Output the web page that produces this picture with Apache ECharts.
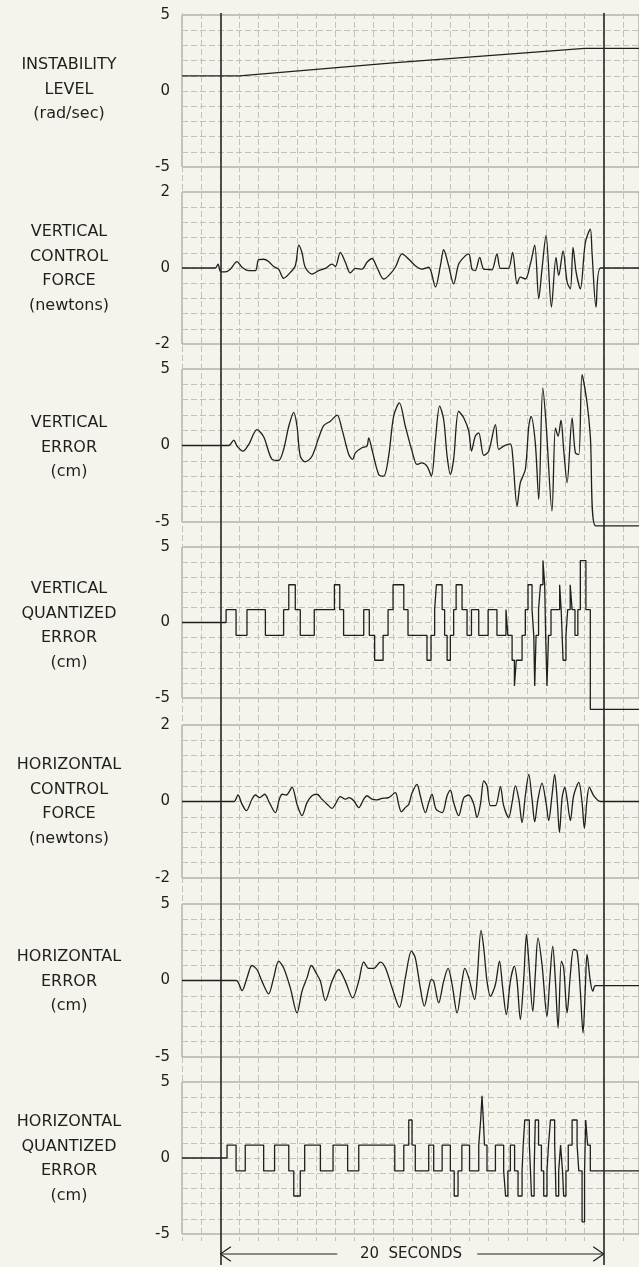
<!DOCTYPE html>
<html>
<head>
<meta charset="utf-8">
<script src="https://cdn.jsdelivr.net/npm/echarts@6/dist/echarts.min.js"></script>
<style>
  html, body { margin: 0; padding: 0; background: #f4f4ec; }
  #chart { width: 639px; height: 1267px; }
</style>
</head>
<body>
<div id="chart"></div>
<script>
// time axis (seconds), 0 and 20 are the heavy marker lines
const timeMin = -2;
const timeMax = 21.84;
const markerTimes = [0, 20];

// each panel runs from -range to +range
const panelRanges = [5, 2, 5, 5, 2, 5, 5];

const panelTitles = [
  ["INSTABILITY", "LEVEL", "(rad/sec)"],
  ["VERTICAL", "CONTROL", "FORCE", "(newtons)"],
  ["VERTICAL", "ERROR", "(cm)"],
  ["VERTICAL", "QUANTIZED", "ERROR", "(cm)"],
  ["HORIZONTAL", "CONTROL", "FORCE", "(newtons)"],
  ["HORIZONTAL", "ERROR", "(cm)"],
  ["HORIZONTAL", "QUANTIZED", "ERROR", "(cm)"]
];

// [time, value]
const instabilityLevel = [[-2, 1], [1, 1], [9, 1.85], [19, 2.8], [21.84, 2.8]];

const verticalForce = [[-2,0],[-0.26,0],[-0.12,0.1],[0.02,-0.1],[0.26,-0.1],[0.52,-0.03],[0.87,0.17],[1.13,0.02],[1.48,-0.07],[1.83,-0.07],[2.0,0.22],[2.26,0.23],[2.52,0.17],[2.78,0.04],[3.04,-0.03],[3.3,-0.27],[3.57,-0.16],[3.91,0.06],[4.09,0.6],[4.26,0.4],[4.43,0.02],[4.78,-0.16],[5.13,-0.07],[5.48,-0.01],[5.83,0.1],[6.0,0.04],[6.26,0.41],[6.52,0.15],[6.78,-0.13],[7.04,-0.01],[7.39,-0.03],[7.65,0.15],[7.91,0.25],[8.17,0.02],[8.52,-0.29],[8.78,-0.2],[9.13,0.02],[9.48,0.37],[9.83,0.23],[10.17,0.06],[10.52,-0.03],[10.87,0.02],[11.22,-0.5],[11.48,0.06],[11.65,0.48],[11.91,0.06],[12.17,-0.42],[12.43,0.1],[12.7,0.28],[12.96,0.37],[13.13,-0.03],[13.3,-0.07],[13.53,0.28],[13.74,-0.03],[14.0,-0.04],[14.17,-0.05],[14.43,0.37],[14.61,-0.01],[14.87,-0.01],[15.04,-0.01],[15.25,0.41],[15.48,-0.42],[15.65,-0.24],[15.91,-0.29],[16.17,0.1],[16.4,0.6],[16.61,-0.81],[16.78,-0.03],[16.99,0.86],[17.27,-1.03],[17.51,0.28],[17.65,-0.2],[17.88,0.45],[18.09,-0.37],[18.26,-0.55],[18.4,0.54],[18.56,-0.11],[18.78,-0.55],[19.04,0.67],[19.3,1.02],[19.39,0.4],[19.6,-1.03],[19.83,0],[21.84,0]];

const verticalError = [[-2,0],[0.43,0],[0.7,0.35],[0.87,-0.04],[1.18,-0.37],[1.48,0.07],[1.91,1.04],[2.26,0.57],[2.7,-0.91],[3.04,-0.98],[3.3,-0.26],[3.57,1.26],[3.83,2.17],[4.0,1.26],[4.17,-0.7],[4.43,-1.07],[4.78,-0.7],[5.13,0.5],[5.39,1.3],[5.74,1.59],[6.09,1.98],[6.35,1.04],[6.7,-0.59],[6.9,-0.91],[7.04,-0.48],[7.39,-0.15],[7.65,-0.04],[7.74,0.5],[7.91,-0.26],[8.26,-1.89],[8.52,-2.0],[8.78,-0.7],[9.04,1.91],[9.34,2.78],[9.65,1.26],[10.0,-0.37],[10.26,-1.24],[10.52,-1.13],[10.78,-1.35],[11.01,-2.0],[11.22,0.39],[11.44,2.57],[11.65,1.7],[11.83,-0.7],[12.0,-1.89],[12.17,-0.91],[12.43,2.24],[12.7,1.8],[12.96,0.93],[13.1,-0.37],[13.3,0.61],[13.48,0.83],[13.74,-0.65],[14.0,-0.37],[14.35,1.37],[14.52,-0.26],[14.78,-0.04],[15.13,0.11],[15.25,-0.7],[15.48,-3.96],[15.65,-2.43],[15.91,-1.57],[16.09,1.26],[16.21,1.91],[16.43,0.17],[16.61,-3.52],[16.82,3.76],[16.99,1.48],[17.3,-4.28],[17.48,1.15],[17.62,0.61],[17.77,1.65],[17.91,-0.26],[18.09,-2.43],[18.35,1.8],[18.52,-0.48],[18.7,-0.59],[18.87,4.63],[19.13,2.78],[19.3,0.61],[19.57,-5.25],[21.84,-5.25]];

// quantized traces: level holds from each time until the next one
const verticalQuantized = [[-2,0],[0.3,0.85],[0.82,-0.85],[1.39,0.85],[2.35,-0.85],[3.3,0.85],[3.57,2.5],[3.91,0.85],[4.17,-0.85],[4.9,0.85],[5.95,2.5],[6.23,0.85],[6.43,-0.85],[7.48,0.85],[7.77,-0.85],[8.05,-2.5],[8.49,-0.85],[8.75,0.85],[9.01,2.5],[9.57,0.85],[9.79,-0.85],[10.78,-2.5],[10.99,-0.85],[11.18,0.85],[11.27,2.5],[11.57,0.85],[11.7,-0.85],[11.83,-2.5],[12.0,-0.85],[12.17,0.85],[12.3,2.5],[12.61,0.85],[12.87,-0.85],[13.1,0.85],[13.48,-0.85],[13.97,0.85],[14.43,-0.85],[14.9,0.85],[15.0,-0.85],[15.22,-2.5],[15.34,-4.2],[15.44,-2.5],[15.74,-0.85],[15.91,0.85],[16.05,2.5],[16.26,0.85],[16.35,-0.85],[16.4,-4.2],[16.47,-0.85],[16.6,0.85],[16.7,2.5],[16.83,4.1],[16.92,2.5],[16.97,-0.85],[17.04,-4.2],[17.12,-0.85],[17.25,0.85],[17.7,2.5],[17.78,0.85],[17.88,-2.5],[18.03,-0.85],[18.12,0.85],[18.25,2.5],[18.35,0.85],[18.5,-0.85],[18.65,0.85],[18.78,4.1],[19.07,0.85],[19.3,-5.75],[21.84,-5.75]];

const horizontalForce = [[-2,0],[0.7,0],[0.92,0.17],[1.13,-0.07],[1.36,-0.24],[1.65,0.06],[1.83,0.17],[2.05,0.1],[2.31,0.19],[2.56,-0.03],[2.87,-0.29],[3.08,0.06],[3.22,0.19],[3.44,0.17],[3.74,0.37],[4.0,-0.07],[4.26,-0.37],[4.52,-0.03],[4.78,0.15],[5.04,0.19],[5.3,0.06],[5.57,-0.07],[5.83,-0.18],[6.0,-0.07],[6.26,0.13],[6.52,0.06],[6.7,0.1],[6.96,0.02],[7.22,-0.16],[7.48,0.06],[7.65,0.15],[7.91,0.06],[8.17,0.04],[8.43,0.08],[8.78,0.1],[9.13,0.23],[9.3,-0.07],[9.44,-0.27],[9.65,-0.16],[9.83,-0.07],[10.0,0.22],[10.26,0.45],[10.43,0.15],[10.7,-0.29],[10.87,-0.03],[11.04,0.19],[11.25,-0.2],[11.57,-0.29],[11.83,0.15],[12.0,0.3],[12.17,-0.03],[12.43,-0.37],[12.7,0.1],[12.96,0.17],[13.22,-0.07],[13.39,-0.42],[13.57,-0.07],[13.74,0.54],[13.91,0.41],[14.09,-0.11],[14.35,-0.11],[14.61,0.39],[14.78,-0.11],[15.04,-0.42],[15.22,-0.03],[15.39,0.41],[15.57,0.06],[15.74,-0.55],[15.91,0.15],[16.09,0.71],[16.26,0.06],[16.4,-0.53],[16.57,0.06],[16.78,0.48],[16.99,-0.03],[17.13,-0.5],[17.3,0.15],[17.44,0.71],[17.57,0.06],[17.69,-0.81],[17.83,0.1],[17.97,0.37],[18.09,0.06],[18.26,-0.5],[18.43,0.15],[18.7,0.5],[18.87,-0.03],[18.99,-0.7],[19.13,0.06],[19.25,0.37],[19.48,0.15],[19.83,0],[21.84,0]];

const horizontalError = [[-2,0],[0.82,0],[1.13,-0.66],[1.39,0.17],[1.65,0.98],[1.91,0.72],[2.17,-0.04],[2.52,-0.87],[2.78,0.17],[3.04,1.27],[3.3,0.83],[3.65,-0.48],[4.0,-2.12],[4.26,-0.7],[4.52,0.17],[4.75,0.98],[5.04,0.39],[5.22,-0.04],[5.48,-1.31],[5.83,-0.04],[6.17,0.72],[6.52,-0.04],[6.9,-1.14],[7.22,-0.04],[7.48,1.22],[7.74,0.79],[8.0,0.79],[8.35,1.2],[8.61,0.83],[8.96,-0.48],[9.34,-1.75],[9.65,0.17],[9.97,1.92],[10.17,1.48],[10.43,-0.48],[10.64,-1.68],[10.87,-0.48],[11.01,0.07],[11.13,-0.04],[11.39,-1.46],[11.65,-0.04],[11.88,0.79],[12.09,-0.26],[12.35,-2.12],[12.61,-0.04],[12.75,0.79],[12.96,0.17],[13.27,-1.25],[13.39,-0.04],[13.6,3.28],[13.74,2.14],[13.91,-0.04],[14.09,-1.03],[14.35,-0.26],[14.56,1.27],[14.73,-0.48],[14.92,-2.23],[15.13,-0.04],[15.34,0.94],[15.48,-0.04],[15.65,-2.55],[15.83,0.17],[15.97,3.01],[16.09,1.27],[16.3,-2.02],[16.43,0.39],[16.57,2.79],[16.78,1.05],[17.04,-2.34],[17.18,-0.04],[17.34,2.25],[17.48,-0.04],[17.62,-3.1],[17.79,1.27],[17.91,0.83],[18.09,-2.12],[18.26,0.39],[18.43,2.03],[18.61,1.92],[18.78,-0.7],[18.92,-3.43],[19.04,-0.48],[19.13,1.7],[19.3,-0.04],[19.43,-0.7],[19.57,-0.33],[21.84,-0.33]];

const horizontalQuantized = [[-2,0],[0.35,0.85],[0.82,-0.85],[1.3,0.85],[2.26,-0.85],[2.83,0.85],[3.57,-0.85],[3.83,-2.5],[4.17,-0.85],[4.4,0.85],[5.22,-0.85],[5.88,0.85],[6.64,-0.85],[7.22,0.85],[9.1,-0.85],[9.57,0.85],[9.83,2.5],[10.0,0.85],[10.17,-0.85],[10.87,0.85],[11.13,-0.85],[11.57,0.85],[12.0,-0.85],[12.2,-2.5],[12.4,-0.85],[12.6,0.85],[13.0,-0.85],[13.48,0.85],[13.58,2.5],[13.65,4.1],[13.72,2.5],[13.78,0.85],[13.91,-0.85],[14.35,0.85],[14.78,-0.85],[14.88,-2.5],[15.0,-0.85],[15.13,0.85],[15.35,-0.85],[15.53,-2.5],[15.74,-0.85],[15.8,0.85],[15.88,2.5],[16.12,0.85],[16.18,-0.85],[16.23,-2.5],[16.37,-0.85],[16.4,0.85],[16.43,2.5],[16.6,0.85],[16.75,-0.85],[16.87,-2.5],[17.04,-0.85],[17.12,0.85],[17.22,2.5],[17.44,0.85],[17.48,-0.85],[17.51,-2.5],[17.65,-0.85],[17.75,0.85],[17.85,-0.85],[17.91,-2.5],[18.03,-0.85],[18.15,0.85],[18.35,2.5],[18.61,0.85],[18.7,-0.85],[18.87,-4.2],[19.0,-0.85],[19.03,0.85],[19.06,2.5],[19.16,0.85],[19.3,-0.85],[21.84,-0.85]];

// "20 SECONDS" span arrow
const spanLeftShaft = [[0, 0.5], [6.1, 0.5]];
const spanRightShaft = [[13.4, 0.5], [20, 0.5]];
const spanLeftHead = [[0.55, 0.95], [0, 0.5], [0.55, 0.05]];
const spanRightHead = [[19.45, 0.95], [20, 0.5], [19.45, 0.05]];
const spanLabel = "20  SECONDS";

const traces = [instabilityLevel, verticalForce, verticalError, verticalQuantized,
  horizontalForce, horizontalError, horizontalQuantized];
const stepped = [false, false, false, true, false, false, true];
const smoothed = [false, true, true, false, true, true, false];

// layout
const panelTops = [15, 192, 369, 547, 725, 904, 1082];
const panelHeights = [152, 152, 153, 151, 153, 153, 152];
const titleTops = [65, 232, 423, 589, 765, 957, 1122];
const plotLeft = 182;
const plotRight = -2;
const ink = "#1f1f1f";
const gridInk = "#c2c2b9";
const font = '"DejaVu Sans", sans-serif';

const grids = [];
const xAxes = [];
const yAxes = [];
const series = [];
const graphics = [];

function hiddenX(gi) {
  return { gridIndex: gi, type: "value", min: timeMin, max: timeMax, show: false };
}

// 0: background with one-second vertical rules
grids.push({ left: plotLeft, right: plotRight, top: 13, height: 1228 });
xAxes.push({
  gridIndex: 0, type: "value", min: timeMin, max: timeMax, interval: 1,
  axisLine: { show: false }, axisTick: { show: false }, axisLabel: { show: false },
  splitLine: { show: true, lineStyle: { color: gridInk, width: 1, type: [6, 3] } }
});
yAxes.push({ gridIndex: 0, type: "value", min: 0, max: 1, show: false });

// 1..7: panels
panelRanges.forEach((r, i) => {
  const gi = i + 1;
  grids.push({
    left: plotLeft, right: plotRight, top: panelTops[i], height: panelHeights[i],
    show: true, borderColor: "#92928b", borderWidth: 1, backgroundColor: "transparent"
  });
  xAxes.push(hiddenX(gi));
  yAxes.push({
    gridIndex: gi, type: "value", min: -r, max: r, interval: r / 5,
    axisLine: { show: false }, axisTick: { show: false },
    axisLabel: {
      margin: 12, color: ink, fontSize: 15, fontFamily: font,
      formatter: (v) => (Math.abs(Math.abs(v) - r) < 1e-6 || Math.abs(v) < 1e-6)
        ? String(Math.round(v)) : ""
    },
    splitLine: { show: true, lineStyle: { color: gridInk, width: 1, type: [6, 3] } }
  });
  series.push({
    type: "line", xAxisIndex: gi, yAxisIndex: gi, data: traces[i],
    step: stepped[i] ? "end" : false, smooth: smoothed[i] ? 0.3 : false,
    showSymbol: false, clip: false, silent: true,
    lineStyle: { color: ink, width: 1.3 }
  });
  panelTitles[i].forEach((t, k) => {
    graphics.push({
      type: "text", x: 69, y: titleTops[i] + k * 24.6,
      style: { text: t, align: "center", verticalAlign: "middle",
        font: "16px " + font, fill: ink }
    });
  });
});

// 8: heavy 0 s and 20 s lines across the whole strip
grids.push({ left: plotLeft, right: plotRight, top: 13, height: 1252 });
xAxes.push(hiddenX(8));
yAxes.push({ gridIndex: 8, type: "value", min: 0, max: 1, show: false });
series.push({
  type: "line", xAxisIndex: 8, yAxisIndex: 8, data: [], silent: true,
  markLine: {
    symbol: "none", silent: true, label: { show: false },
    lineStyle: { color: "#262626", width: 1.6, type: "solid" },
    data: markerTimes.map((t) => ({ xAxis: t }))
  }
});

// 9: span arrow under the strip
grids.push({ left: plotLeft, right: plotRight, top: 1246, height: 16 });
xAxes.push(hiddenX(9));
yAxes.push({ gridIndex: 9, type: "value", min: 0, max: 1, show: false });
[spanLeftShaft, spanRightShaft, spanLeftHead, spanRightHead].forEach((d) => {
  series.push({
    type: "line", xAxisIndex: 9, yAxisIndex: 9, data: d, showSymbol: false,
    silent: true, clip: false, lineStyle: { color: ink, width: 1.2 }
  });
});
graphics.push({
  type: "text", x: 411, y: 1254,
  style: { text: spanLabel, align: "center", verticalAlign: "middle",
    font: "15px " + font, fill: ink }
});

const chart = echarts.init(document.getElementById("chart"), null, { renderer: "canvas" });
chart.setOption({
  backgroundColor: "#f4f4ec",
  animation: false,
  grid: grids,
  xAxis: xAxes,
  yAxis: yAxes,
  series: series,
  graphic: graphics
});
</script>
</body>
</html>
